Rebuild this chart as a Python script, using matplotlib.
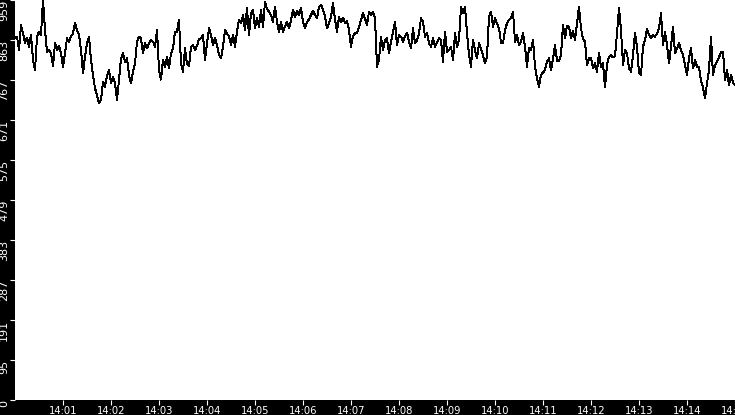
import numpy as np
import pandas as pd
import matplotlib
matplotlib.use("Agg")
import matplotlib.pyplot as plt
import matplotlib.dates as mdates

# one reading every 2.5 s, 14:00:00 -> 14:15:00
start = "2024-01-01 14:00:00"
step = "2500ms"
values = [
    867, 871, 839, 899, 879, 855, 869, 847, 875, 815, 790, 871, 883, 875, 959, 887,
    835, 839, 831, 800, 855, 839, 849, 831, 799, 831, 867, 859, 871, 879, 903, 887,
    875, 839, 783, 823, 855, 871, 815, 779, 747, 731, 711, 719, 763, 751, 776, 791,
    759, 773, 759, 719, 767, 819, 831, 811, 819, 779, 759, 787, 807,
    859, 871, 867, 831, 855, 843, 855, 863, 859, 847, 887, 791, 768, 815, 799, 823,
    795, 831, 843, 883, 883, 911, 807, 787, 843, 805, 800, 847, 851, 839, 849, 865,
    867, 875, 815, 855, 891, 875, 851, 867, 851, 827, 819, 847, 887, 879, 871, 851,
    875, 847, 883, 911, 903, 923, 887, 939, 875, 927, 935, 891,
    915, 895, 935, 895, 955, 937, 931, 923, 907, 943, 907, 883, 907, 883, 895, 907,
    891, 911, 935, 919, 933, 923, 939, 907, 891, 905, 913, 923, 933, 923, 915, 943,
    947, 937, 919, 891, 903, 919, 951, 911, 883, 919, 905, 917, 903, 909, 887, 847,
    873, 879, 879, 893, 911, 927, 915, 899, 931, 923, 931, 915,
    799, 815, 871, 839, 863, 867, 831, 859, 883, 907, 851, 875, 871, 859, 871, 881,
    859, 843, 891, 855, 861, 879, 915, 907, 871, 879, 855, 847, 867, 847, 858, 867,
    863, 811, 883, 835, 839, 847, 815, 879, 847, 863, 943, 927, 943, 879, 827, 799,
    863, 839, 819, 855, 843, 825, 807, 823, 919, 931, 895, 915,
    903, 891, 857, 855, 887, 903, 911, 915, 931, 859, 875, 851, 859, 879, 847, 799,
    843, 839, 863, 799, 771, 751, 779, 785, 791, 811, 819, 791, 817, 851, 813, 812,
    827, 899, 867, 897, 895, 867, 885, 863, 903, 943, 891, 865, 859, 803, 819, 819,
    795, 807, 787, 831, 799, 807, 749, 803, 823, 827, 821, 824,
    879, 939, 887, 803, 839, 831, 795, 787, 827, 879, 847, 783, 779, 847, 863, 889,
    875, 867, 875, 871, 879, 891, 927, 851, 883, 851, 807, 847, 895, 831, 843, 855,
    839, 827, 803, 779, 819, 843, 795, 815, 799, 799, 765, 749, 723, 759, 791, 871,
    779, 803, 811, 821, 835, 835, 767, 791, 755, 779, 760, 755,
]
times = pd.date_range(start, periods=len(values), freq=step)

# minute ticks, first one (14:00) sits on the edge and isn't labelled
x_ticks = pd.date_range("2024-01-01 14:01:00", "2024-01-01 14:15:00", freq="1min")

y_max = 959
y_ticks = [y_max * k / 10 for k in range(11)]
y_labels = [str(int(v)) for v in y_ticks]

fig = plt.figure(figsize=(7.35, 4.15), dpi=100, facecolor="black")
ax = fig.add_axes([15 / 735, 15.5 / 415, 720 / 735, 399.5 / 415])
ax.set_facecolor("white")

ax.plot(times, values, color="black", lw=0.7, antialiased=False)

ax.set_xlim(times[0], times[-1])
ax.set_ylim(0, y_max)

ax.set_xticks(x_ticks)
ax.xaxis.set_major_formatter(mdates.DateFormatter("%H:%M"))
ax.set_yticks(y_ticks)
ax.set_yticklabels(y_labels)

for s in ax.spines.values():
    s.set_visible(False)

ax.tick_params(axis="x", colors="white", length=3.6, width=0.8, pad=1.0,
               labelsize=7.2)
ax.tick_params(axis="y", colors="white", length=3.6, width=0.8, pad=0.5,
               labelsize=8)
for lbl in ax.get_yticklabels():
    lbl.set_rotation(90)
    lbl.set_va("top")
    lbl.set_ha("right")
    lbl.set_family(["Liberation Sans Narrow", "DejaVu Sans"])

fig.savefig("out.png", dpi=100, facecolor="black")
